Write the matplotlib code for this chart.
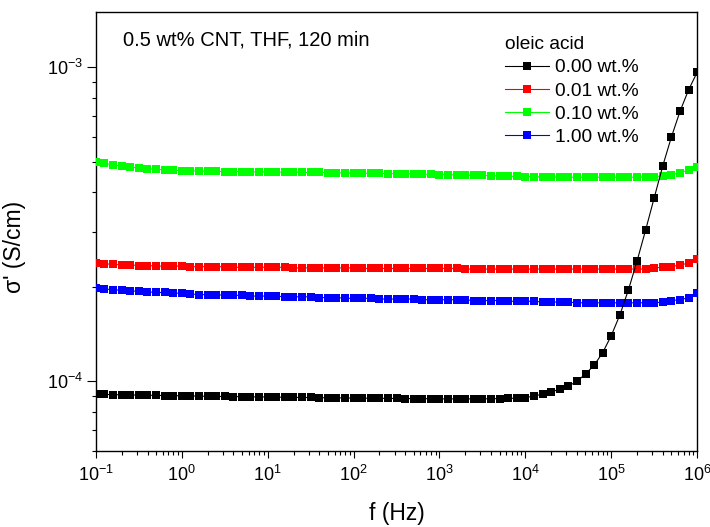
import numpy as np
import matplotlib
matplotlib.use('Agg')
import matplotlib.pyplot as plt
from matplotlib.ticker import LogLocator, NullFormatter

plt.rcParams['font.family'] = ['Liberation Sans', 'DejaVu Sans']
plt.rcParams['mathtext.default'] = 'regular'
plt.rcParams['axes.unicode_minus'] = False

#-------------------------------------------------------------------------
# data: frequency sweep, 10 points per decade from 0.1 Hz to 1 MHz
#-------------------------------------------------------------------------
freq = np.logspace(-1, 6, 71)

# conductivity in units of 1e-4 S/cm
sigma_000 = [0.910, 0.909, 0.908, 0.907, 0.906, 0.905, 0.904, 0.903, 0.902, 0.901,
             0.900, 0.899, 0.898, 0.897, 0.896, 0.896, 0.895, 0.894, 0.893, 0.893,
             0.892, 0.891, 0.891, 0.890, 0.889, 0.889, 0.888, 0.887, 0.887, 0.886,
             0.885, 0.885, 0.884, 0.884, 0.883, 0.883, 0.882, 0.882, 0.881, 0.881,
             0.880, 0.880, 0.880, 0.880, 0.880, 0.880, 0.881, 0.882, 0.883, 0.885,
             0.887, 0.900, 0.910, 0.927, 0.944, 0.967, 1.000, 1.057, 1.126, 1.236,
             1.40, 1.63, 1.96, 2.42, 3.04, 3.85, 4.87, 6.01, 7.25, 8.49,
             9.66]
sigma_001 = [2.38, 2.37, 2.36, 2.35, 2.35, 2.34, 2.34, 2.33, 2.33, 2.33,
             2.33, 2.32, 2.32, 2.32, 2.32, 2.32, 2.31, 2.31, 2.31, 2.31,
             2.31, 2.31, 2.31, 2.30, 2.30, 2.30, 2.30, 2.30, 2.30, 2.30,
             2.30, 2.29, 2.29, 2.29, 2.29, 2.29, 2.29, 2.29, 2.29, 2.29,
             2.29, 2.29, 2.29, 2.28, 2.28, 2.28, 2.28, 2.28, 2.28, 2.28,
             2.28, 2.28, 2.28, 2.28, 2.28, 2.28, 2.28, 2.28, 2.28, 2.28,
             2.28, 2.28, 2.28, 2.28, 2.28, 2.30, 2.31, 2.32, 2.35, 2.38,
             2.46]
sigma_010 = [4.99, 4.95, 4.89, 4.85, 4.82, 4.78, 4.76, 4.74, 4.72, 4.70,
             4.69, 4.68, 4.68, 4.67, 4.67, 4.66, 4.66, 4.66, 4.65, 4.65,
             4.65, 4.64, 4.64, 4.64, 4.63, 4.63, 4.63, 4.62, 4.62, 4.61,
             4.61, 4.60, 4.60, 4.60, 4.59, 4.59, 4.58, 4.58, 4.57, 4.57,
             4.56, 4.55, 4.55, 4.54, 4.53, 4.53, 4.52, 4.51, 4.50, 4.50,
             4.49, 4.49, 4.48, 4.48, 4.47, 4.47, 4.47, 4.47, 4.47, 4.47,
             4.47, 4.47, 4.47, 4.47, 4.48, 4.49, 4.51, 4.55, 4.62, 4.71,
             4.83]
sigma_100 = [1.99, 1.97, 1.96, 1.95, 1.94, 1.94, 1.93, 1.92, 1.92, 1.91,
             1.91, 1.90, 1.89, 1.89, 1.89, 1.88, 1.88, 1.88, 1.87, 1.87,
             1.87, 1.87, 1.86, 1.86, 1.86, 1.86, 1.85, 1.85, 1.85, 1.84,
             1.84, 1.84, 1.84, 1.83, 1.83, 1.83, 1.83, 1.83, 1.82, 1.82,
             1.82, 1.82, 1.82, 1.82, 1.81, 1.81, 1.81, 1.81, 1.80, 1.80,
             1.80, 1.80, 1.79, 1.79, 1.79, 1.79, 1.78, 1.78, 1.78, 1.78,
             1.78, 1.78, 1.78, 1.78, 1.78, 1.78, 1.79, 1.81, 1.82, 1.85,
             1.91]

labels = ['0.00 wt.%', '0.01 wt.%', '0.10 wt.%', '1.00 wt.%']
colors = ['#000000', '#ff0000', '#00ff00', '#0000ff']
series = [sigma_000, sigma_001, sigma_010, sigma_100]
zorders = [5, 3, 3, 3]

#-------------------------------------------------------------------------
# plot
#-------------------------------------------------------------------------
fig = plt.figure(figsize=(7.1, 5.27), dpi=100)
ax = fig.add_axes([0.135, 0.144, 0.847, 0.833])

for vals, lab, col, z in zip(series, labels, colors, zorders):
    ax.plot(freq, np.array(vals) * 1e-4, '-s', color=col, lw=0.8,
            ms=6.0, mew=0, label=lab, zorder=z)

ax.set_xscale('log')
ax.set_yscale('log')
ax.set_xlim(1e-1, 1e6)
ax.set_ylim(6e-5, 1.5e-3)

ax.xaxis.set_major_locator(LogLocator(base=10, numticks=20))
ax.xaxis.set_minor_locator(LogLocator(base=10, subs=np.arange(2, 10), numticks=20))
ax.yaxis.set_minor_locator(LogLocator(base=10, subs=np.arange(2, 10), numticks=20))
ax.xaxis.set_minor_formatter(NullFormatter())
ax.yaxis.set_minor_formatter(NullFormatter())

ax.tick_params(axis='both', which='both', direction='out', top=False, right=False,
               width=0.8, labelsize=13)
ax.tick_params(axis='x', which='major', length=5, pad=5)
ax.tick_params(axis='y', which='major', length=6.5, pad=3)
ax.tick_params(axis='both', which='minor', length=3)
for sp in ax.spines.values():
    sp.set_linewidth(1.0)

ax.set_xlabel('f (Hz)', fontsize=16.5, labelpad=12)
ax.set_ylabel("σ' (S/cm)", fontsize=16.5)
ax.yaxis.set_label_coords(-0.116, 0.465)

ax.text(0.045, 0.936, '0.5 wt% CNT, THF, 120 min', transform=ax.transAxes,
        fontsize=14.5, va='center', ha='left')

leg = ax.legend(loc='upper left', bbox_to_anchor=(0.664, 0.967), frameon=False,
                title='oleic acid', title_fontsize=13.8, fontsize=13.8,
                alignment='left', handlelength=2.3, handletextpad=0.3,
                labelspacing=0.3, borderpad=0, numpoints=1, markerscale=0.9)

fig.savefig('out.png', dpi=100)
